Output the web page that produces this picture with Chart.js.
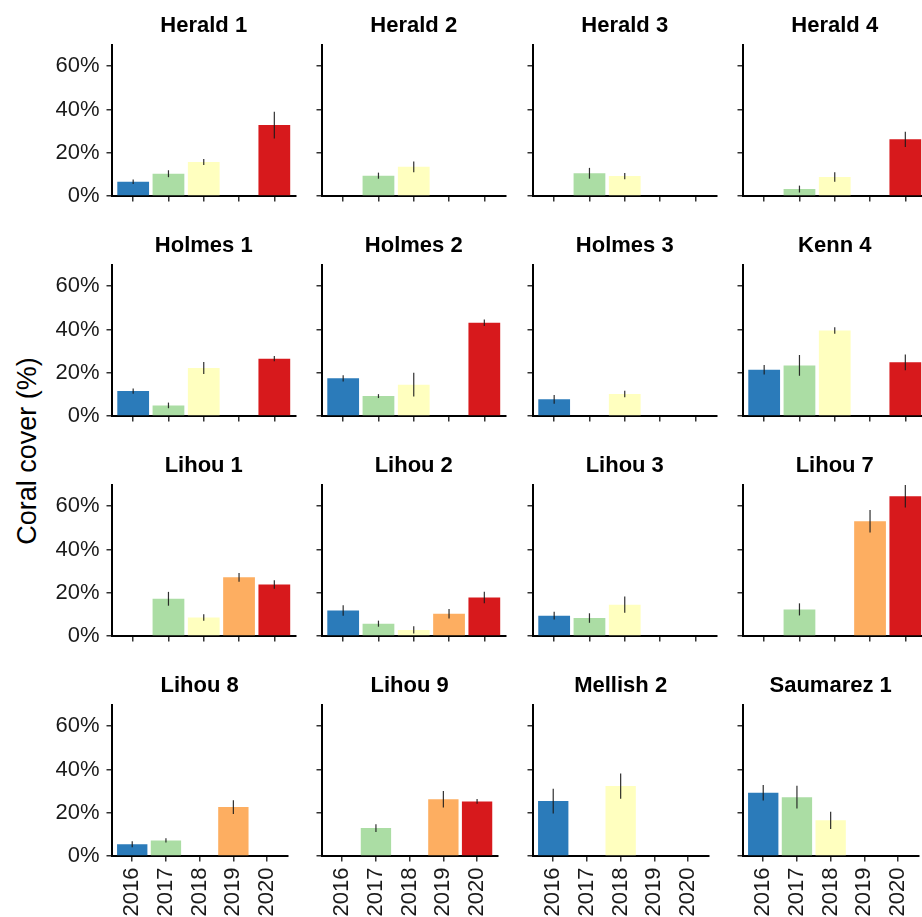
<!DOCTYPE html>
<html>
<head>
<meta charset="utf-8">
<script src="https://cdn.jsdelivr.net/npm/chart.js@4.4.1/dist/chart.umd.min.js"></script>
<style>
  html, body { margin: 0; padding: 0; background: #fff; overflow: hidden; }
  #wrap { position: relative; width: 922px; height: 917px; overflow: hidden; background: #fff; }
  #wrap canvas { position: absolute; }
  #ylab {
    position: absolute; left: 27px; top: 451px;
    transform: translate(-50%, -50%) rotate(-90deg);
    font: 27px "Liberation Sans", Arial, Helvetica, sans-serif;
    line-height: 27px; white-space: nowrap; color: #000;
  }
</style>
</head>
<body>
<div id="wrap"><div id="ylab">Coral cover (%)</div></div>
<script>
// Survey sites, one facet each (row by row)
const sites = ['Herald 1', 'Herald 2', 'Herald 3', 'Herald 4',
               'Holmes 1', 'Holmes 2', 'Holmes 3', 'Kenn 4',
               'Lihou 1', 'Lihou 2', 'Lihou 3', 'Lihou 7',
               'Lihou 8', 'Lihou 9', 'Mellish 2', 'Saumarez 1'];
const years = ['2016', '2017', '2018', '2019', '2020'];
const yTicks = [0, 20, 40, 60];

// Mean coral cover (%) per site, one array per survey year
const cover2016 = [6.6, null, null, null, 11.5, 17.4, 7.7, 21.4, null, 11.8, 9.4, null, 5.4, null, 25.4, 29.2];
const cover2017 = [10.3, 9.4, 10.5, 3.2, 4.9, 9.2, null, 23.4, 17.2, 5.7, 8.3, 12.3, 7.2, 12.9, null, 27.2];
const cover2018 = [15.7, 13.5, 9.2, 8.8, 22.2, 14.5, 10.2, 39.5, 8.5, 2.8, 14.5, null, null, null, 32.3, 16.5];
const cover2019 = [null, null, null, null, null, null, null, null, 27.1, 10.3, null, 53.1, 22.6, 26.2, null, null];
const cover2020 = [32.8, null, null, 26.2, 26.5, 43.1, null, 24.8, 23.8, 17.8, null, 64.6, null, 25.2, null, null];

// Standard error of the mean (%) per site
const se2016 = [1.0, null, null, null, 1.2, 1.4, 2.0, 2.2, null, 2.4, 1.8, null, 1.4, null, 5.7, 3.6];
const se2017 = [1.6, 1.4, 2.5, 1.6, 1.3, 0.9, null, 4.8, 3.2, 1.4, 2.2, 2.8, 1.0, 1.8, null, 5.3];
const se2018 = [1.4, 2.5, 1.4, 2.2, 2.8, 5.5, 1.5, 1.5, 1.5, 1.7, 3.8, null, null, null, 5.8, 4.0];
const se2019 = [null, null, null, null, null, null, null, null, 2.0, 2.2, null, 5.2, 3.2, 3.8, null, null];
const se2020 = [6.2, null, null, 3.5, 1.2, 1.5, null, 3.6, 2.0, 2.7, null, 5.2, null, 1.1, null, null];

const coverByYear = [cover2016, cover2017, cover2018, cover2019, cover2020];
const seByYear = [se2016, se2017, se2018, se2019, se2020];

// Fill colour for each year
const yearColors = ['#2b7bba', '#abdda4', '#ffffbf', '#fdae61', '#d7191c'];

// Shared y range: zero up to the highest error bar
let yMax = 0;
coverByYear.forEach((arr, yi) => arr.forEach((v, si) => {
  if (v !== null) yMax = Math.max(yMax, v + seByYear[yi][si]);
}));

const FONT = '"Liberation Sans", Arial, Helvetica, sans-serif';
const COLS = 4, ROWS = 4;
const COL_STEP = 210.3, ROW_STEP = 220;
const CANVAS_W = 300;
const AXIS_W = 112;        // room left of each panel for y ticks/labels
const PLOT_W = 183.5;      // width of every panel's plotting area
const PLOT_TOP = 45;       // space above each panel for its title
const PLOT_BOTTOM = 196;   // x axis position inside each canvas

// Error bars and facet titles
const panelDecor = {
  id: 'panelDecor',
  afterDatasetsDraw(chart) {
    const { ctx } = chart;
    const xs = chart.scales.x, ys = chart.scales.y;
    ctx.save();
    ctx.strokeStyle = 'rgba(25,25,25,0.9)';
    ctx.lineWidth = 1.2;
    chart.data.datasets[0].data.forEach(p => {
      const px = xs.getPixelForValue(p.x);
      ctx.beginPath();
      ctx.moveTo(px, ys.getPixelForValue(p.y - p.se));
      ctx.lineTo(px, ys.getPixelForValue(p.y + p.se));
      ctx.stroke();
    });
    ctx.restore();
  },
  afterDraw(chart, args, opts) {
    const { ctx, chartArea } = chart;
    ctx.save();
    ctx.font = 'bold 22px ' + FONT;
    ctx.fillStyle = '#000';
    ctx.textAlign = 'center';
    ctx.textBaseline = 'alphabetic';
    ctx.fillText(opts.title, (chartArea.left + chartArea.right) / 2, 32);
    ctx.restore();
  }
};

const wrap = document.getElementById('wrap');

sites.forEach((site, si) => {
  const r = Math.floor(si / COLS), c = si % COLS;
  const h = r === ROWS - 1 ? 917 - r * ROW_STEP : ROW_STEP;

  const canvas = document.createElement('canvas');
  canvas.width = CANVAS_W;
  canvas.height = h;
  canvas.style.width = CANVAS_W + 'px';
  canvas.style.height = h + 'px';
  canvas.style.left = Math.round(c * COL_STEP) + 'px';
  canvas.style.top = (r * ROW_STEP) + 'px';
  wrap.appendChild(canvas);

  const points = [];
  years.forEach((yr, yi) => {
    const v = coverByYear[yi][si];
    if (v !== null) points.push({ x: yi + 1, y: v, se: seByYear[yi][si] });
  });

  new Chart(canvas, {
    type: 'bar',
    data: {
      datasets: [{
        data: points,
        backgroundColor: ctx => yearColors[ctx.raw.x - 1],
        borderWidth: 0,
        barPercentage: 0.9,
        categoryPercentage: 1.0
      }]
    },
    options: {
      responsive: false,
      animation: false,
      devicePixelRatio: 1,
      layout: { padding: { left: 0, top: PLOT_TOP, right: CANVAS_W - AXIS_W - PLOT_W, bottom: 0 } },
      plugins: {
        legend: { display: false },
        tooltip: { enabled: false },
        title: { display: false },
        panelDecor: { title: site }
      },
      scales: {
        x: {
          type: 'linear',
          bounds: 'data',
          min: 0.4,
          max: years.length + 0.6,
          offset: false,
          afterBuildTicks: s => { s.ticks = years.map((_, i) => ({ value: i + 1 })); },
          afterFit: s => { s.height = h - PLOT_BOTTOM; },
          ticks: {
            display: r === ROWS - 1,
            autoSkip: false,
            minRotation: 90,
            maxRotation: 90,
            padding: 6,
            color: '#1a1a1a',
            font: { family: FONT, size: 22 },
            callback: v => years[v - 1]
          },
          grid: { offset: false, drawOnChartArea: false, drawTicks: true, tickLength: 5.5, color: '#333', lineWidth: 1.5 },
          border: { display: true, color: '#000', width: 2 }
        },
        y: {
          type: 'linear',
          bounds: 'data',
          min: 0,
          max: yMax,
          afterBuildTicks: s => { s.ticks = yTicks.map(v => ({ value: v })); },
          afterFit: s => { s.width = AXIS_W; },
          ticks: {
            display: c === 0,
            padding: 7,
            color: '#1a1a1a',
            font: { family: FONT, size: 22 },
            callback: v => v + '%'
          },
          grid: { drawOnChartArea: false, drawTicks: true, tickLength: 5.5, color: '#333', lineWidth: 1.5 },
          border: { display: true, color: '#000', width: 2 }
        }
      }
    },
    plugins: [panelDecor]
  });
});
</script>
</body>
</html>
